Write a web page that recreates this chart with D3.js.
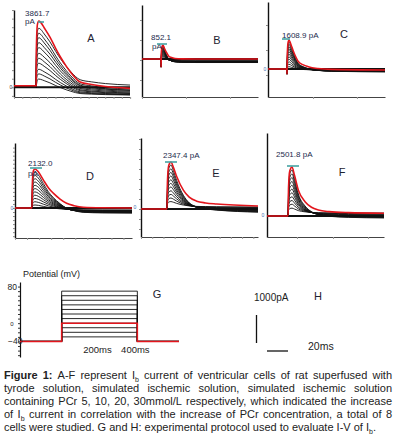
<!DOCTYPE html>
<html><head><meta charset="utf-8">
<script src="https://cdn.jsdelivr.net/npm/d3@7"></script>
<style>body{margin:0;background:#fff}svg{display:block}text{font-family:"Liberation Sans",Arial,sans-serif}</style>
</head><body><svg id="c" width="399" height="437"></svg>
<script>
// ================= DATA =================
const panelKeys   = ["A","B","C","D","E","F"];
const peakLabels  = ["3861.7","852.1","1608.9 pA","2132.0","2347.4 pA","2501.8 pA"];
const peakUnitsBelow = [true, true, false, true, false, false];
const redPeaks    = [3861.7, 852.1, 1608.9, 2132.0, 2347.4, 2501.8];   // pA
const redEnds     = [-60, 0, -55, 0, 150, 140];                        // pA
const redBases    = [90, 0, 0, 0, 0, 0];                               // pA before step
const stepTimes   = [19, 16.4, 16.2, 14.5, 22.2, 18];                  // time units (0-100)
const artifactDips= [0, -490, -280, 0, 0, 0];                          // pA

const peaksA = [480, 780, 1050, 1400, 1690, 1980, 2310, 2600, 2890, 3150, 3440];
const endsA  = [-450, -430, -400, -360, -330, -280, -230, -180, -160, -100, 130];
const peaksB = [120, 185, 245, 310, 375, 440, 505, 575, 645, 715, 790];
const endsB  = [-110, -120, -135, -145, -155, -165, -175, -185, -195, -205, -215];
const peaksC = [130, 265, 400, 540, 680, 820, 960, 1100, 1235, 1370, 1500];
const endsC  = [-60, -70, -80, -90, -100, -110, -120, -130, -140, -150, -160];
const peaksD = [165, 340, 520, 700, 880, 1060, 1240, 1420, 1600, 1780, 1970];
const endsD  = [-110, -125, -140, -160, -180, -200, -215, -230, -245, -260, -280];
const peaksE = [370, 550, 730, 910, 1100, 1280, 1460, 1650, 1830, 2010, 2200];
const endsE  = [100, 70, 40, 10, -20, -50, -80, -100, -120, -140, -160];
const peaksF = [400, 600, 790, 980, 1180, 1370, 1570, 1760, 1960, 2150, 2350];
const endsF  = [150, 120, 90, 60, 30, 0, -20, -40, -60, -80, -100];

// decay shape: offsets after step, fraction of (peak-end)
const offsA  = [0.3, 1.2, 2.4, 4, 7, 12, 17, 21, 26, 30, 38, 48, 60, 81];
const shapeA = [0.6, 0.95, 1, 0.98, 0.9, 0.76, 0.59, 0.465, 0.33, 0.235, 0.094, 0.056, 0.026, 0];
const offsB  = [0.3, 0.9, 1.7, 3, 4.5, 6.5, 9, 12, 18, 30, 83.6];
const shapeB = [0.5, 0.9, 1, 0.75, 0.5, 0.22, 0.1, 0.04, 0.01, 0, 0];
const offsC  = [0.3, 0.9, 1.7, 4, 6.8, 9.7, 14, 18.2, 26.5, 38.2, 83.8];
const shapeC = [0.5, 0.9, 1, 0.78, 0.5, 0.28, 0.17, 0.11, 0.05, 0.02, 0];
const offsD  = [0.3, 1.2, 2.6, 5.4, 9.7, 14, 18.2, 24, 29.6, 36, 43.8, 60, 85.5];
const shapeD = [0.6, 0.95, 1, 0.93, 0.72, 0.52, 0.38, 0.23, 0.12, 0.06, 0.02, 0.005, 0];
const offsE  = [0.4, 1.5, 3.4, 5.5, 8.3, 14, 19, 25.4, 33, 42.5, 77.8];
const shapeE = [0.55, 0.92, 1, 0.88, 0.67, 0.36, 0.2, 0.11, 0.07, 0.045, 0];
const offsF  = [0.4, 1.5, 3.4, 5.5, 8.8, 14.5, 20, 25.9, 35, 51.5, 82];
const shapeF = [0.55, 0.92, 1, 0.82, 0.5, 0.25, 0.13, 0.07, 0.035, 0.013, 0];

// protocol G
const voltageLevels = [-30, -20, -10, 0, 10, 20, 30, 40, 50, 60, 70];
const holdingV = -40;
const redLevel = 0;
const pulseTimes = [0, 400];
const vTickLabels = [80, 0, -40];
const timeTickLabels = [200, 400];

// caption
const captionLines = [
  "*Figure* *1:* A-F represent I~b~ current of ventricular cells of rat superfused with",
  "tyrode solution, simulated ischemic solution, simulated ischemic solution",
  "containing PCr 5, 10, 20, 30mmol/L respectively, which indicated the increase",
  "of I~b~ current in correlation with the increase of PCr concentration, a total of 8",
  "cells were studied. G and H: experimental protocol used to evaluate I-V of I~b~."
];

// ================= LAYOUT =================
const peaksAll = [peaksA, peaksB, peaksC, peaksD, peaksE, peaksF];
const endsAll  = [endsA, endsB, endsC, endsD, endsE, endsF];
const offsAll  = [offsA, offsB, offsC, offsD, offsE, offsF];
const shapeAll = [shapeA, shapeB, shapeC, shapeD, shapeE, shapeF];

const layout = [
  {x0:14,  x1:130, yTop:10,  yBot:97,  dom:[-565,4502],  yt:d3.range(-500,4501,500), xt:d3.range(0,101,7.15),
   lab:[25,16], lab2:[25,24], bar:[38,44,22], letter:[91,42], zero:[11,88.5], zc:"#333"},
  {x0:142, x1:258, yTop:5,   yBot:97,  dom:[-2317,3293], yt:[-1280,-60,1160,2380], xt:[0,37.9,75.9],
   lab:[151,40], lab2:[152,49], bar:[157,167,44], letter:[217,44], zero:null},
  {x0:268, x1:385, yTop:2,   yBot:97,  dom:[-1555,3722], yt:[-333,1055,2444], xt:[38.5,76],
   lab:[282,38], lab2:null, bar:[282,290,39], letter:[344,38], zero:[265,70.5], zc:"#3b6fb0"},
  {x0:15,  x1:132, yTop:143, yBot:238, dom:[-1640,3552], yt:d3.range(-1540,3500,220), xt:d3.range(0,101,10.3),
   lab:[28,166], lab2:[28,176], bar:[30,42,168], letter:[90,180], zero:[12,209.5], zc:"#3b6fb0"},
  {x0:141, x1:258, yTop:138, yBot:237, dom:[-1400,3550], yt:d3.range(-1000,3501,500), xt:d3.range(0,101,9.6),
   lab:[163,158], lab2:null, bar:[165,177,162], letter:[216,177], zero:[135,208.5], zc:"#3b6fb0"},
  {x0:267, x1:384, yTop:133, yBot:237, dom:[-1072,4237], yt:[], xt:[25.6,56.4,86.3],
   lab:[276,157], lab2:null, bar:[287,299,166], letter:[342,176], zero:[263,216.5], zc:"#3b6fb0"}
];

const svg = d3.select("#c");
const labelColor = "#1c2b4d";
const teal = "#45a3a3";
const red = "#e3151c";

function tracePoints(step, dip, base, peak, end, offs, shape){
  const pts = [[0, base], [step, base], [step + 0.05, dip !== 0 ? dip : base]];
  offs.forEach((o, i) => {
    const f = shape[i];
    pts.push([step + o, f * peak + (1 - f) * end]);
  });
  if (pts[pts.length-1][0] < 100) pts.push([100, end]);
  return pts;
}

panelKeys.forEach((key, p) => {
  const L = layout[p];
  const x = d3.scaleLinear().domain([0, 100]).range([L.x0, L.x1]);
  const y = d3.scaleLinear().domain(L.dom).range([L.yBot, L.yTop]);
  const g = svg.append("g");

  // axes
  const ay = g.append("g").attr("transform", `translate(${L.x0},0)`)
    .call(d3.axisLeft(y).tickValues(L.yt).tickSize(2).tickSizeOuter(0).tickFormat(""));
  ay.select(".domain").attr("stroke", "#111").attr("stroke-width", 1.4);
  ay.selectAll(".tick line").attr("stroke", "#888");
  const ax = g.append("g").attr("transform", `translate(0,${L.yBot})`)
    .call(d3.axisBottom(x).tickValues(L.xt).tickSize(2).tickSizeOuter(0).tickFormat(""));
  ax.select(".domain").attr("stroke", "#444").attr("stroke-width", 1);
  ax.selectAll(".tick line").attr("stroke", "#999");

  const line = d3.line().x(d => x(d[0])).y(d => y(d[1])).curve(d3.curveMonotoneX);
  const step = stepTimes[p], dip = artifactDips[p];

  // holding trace (flat)
  g.append("path").attr("d", line([[0,0],[100,0]]))
    .attr("fill","none").attr("stroke","#111").attr("stroke-width",2);

  peaksAll[p].forEach((pk, i) => {
    g.append("path")
      .attr("d", line(tracePoints(step, dip, 0, pk, endsAll[p][i], offsAll[p], shapeAll[p])))
      .attr("fill","none").attr("stroke","#111").attr("stroke-width",0.9);
  });
  g.append("path")
    .attr("d", line(tracePoints(step, dip, redBases[p], redPeaks[p], redEnds[p], offsAll[p], shapeAll[p])))
    .attr("fill","none").attr("stroke",red).attr("stroke-width",1.6);

  // labels
  g.append("text").attr("x", L.lab[0]).attr("y", L.lab[1]).attr("font-size", 8)
    .attr("fill", labelColor).text(peakLabels[p]);
  if (peakUnitsBelow[p] && L.lab2) {
    g.append("text").attr("x", L.lab2[0]).attr("y", L.lab2[1]).attr("font-size", 8)
      .attr("fill", labelColor).text("pA");
  }
  g.append("line").attr("x1", L.bar[0]).attr("x2", L.bar[1]).attr("y1", L.bar[2]).attr("y2", L.bar[2])
    .attr("stroke", teal).attr("stroke-width", 1.6);
  g.append("text").attr("x", L.letter[0]).attr("y", L.letter[1]).attr("font-size", 11)
    .attr("text-anchor","middle").attr("fill","#1e2230").text(key);
  if (L.zero) {
    g.append("text").attr("x", L.zero[0]).attr("y", L.zero[1]).attr("font-size", 5)
      .attr("text-anchor","middle").attr("fill", L.zc).text("0");
  }
});

// ================= PANEL G =================
{
  const g = svg.append("g");
  const tx = d3.scaleLinear().domain([-220, 620]).range([20, 179]);
  const vy = d3.scaleLinear().domain([-74, 90]).range([357, 282]);
  const ay = g.append("g").attr("transform","translate(20,0)")
    .call(d3.axisLeft(vy).tickValues(d3.range(-70, 81, 10)).tickSize(2).tickSizeOuter(0).tickFormat(""));
  ay.select(".domain").attr("stroke","#111").attr("stroke-width",1.2);
  ay.selectAll(".tick line").attr("stroke","#333");
  const ln = d3.line().x(d => tx(d[0])).y(d => vy(d[1]));
  const proto = v => [[-220, holdingV],[pulseTimes[0], holdingV],[pulseTimes[0], v],[pulseTimes[1], v],[pulseTimes[1], holdingV],[620, holdingV]];
  voltageLevels.forEach(v => {
    g.append("path").attr("d", ln(proto(v))).attr("fill","none").attr("stroke","#111").attr("stroke-width",0.9);
  });
  g.append("path").attr("d", ln(proto(redLevel))).attr("fill","none").attr("stroke",red).attr("stroke-width",1.5);

  g.append("text").attr("x",23).attr("y",276.5).attr("font-size",9).attr("fill","#222").text("Potential (mV)");
  vTickLabels.forEach(v => {
    const t = g.append("text").attr("y", vy(v) + 3).attr("fill","#222");
    if (v === 0) t.attr("x", 12).attr("font-size", 6).attr("text-anchor","middle").text("0");
    else if (v < 0) t.attr("x", 8).attr("font-size", 8.5).text("\u2212" + Math.abs(v));
    else t.attr("x", 17).attr("font-size", 8.5).attr("text-anchor","end").text(v);
  });
  timeTickLabels.forEach(t => {
    g.append("text").attr("x", tx(t) - 2).attr("y", 353).attr("font-size", 9.5)
      .attr("text-anchor","middle").attr("fill","#222").text(t + "ms");
  });
  g.append("text").attr("x",157).attr("y",298).attr("font-size",11).attr("text-anchor","middle").attr("fill","#1e2230").text("G");
}

// ================= PANEL H =================
{
  const g = svg.append("g");
  g.append("text").attr("x",254).attr("y",300.5).attr("font-size",10).attr("fill","#222").text("1000pA");
  g.append("text").attr("x",318).attr("y",300).attr("font-size",11).attr("text-anchor","middle").attr("fill","#1e2230").text("H");
  g.append("line").attr("x1",256.5).attr("x2",256.5).attr("y1",315).attr("y2",343).attr("stroke","#111").attr("stroke-width",1.3);
  g.append("line").attr("x1",267).attr("x2",288).attr("y1",351).attr("y2",351).attr("stroke","#111").attr("stroke-width",1.3);
  g.append("text").attr("x",308).attr("y",349.5).attr("font-size",10.5).attr("fill","#222").text("20ms");
}

// ================= CAPTION =================
{
  const g = svg.append("g");
  const left = 4, right = 392, fs = 11;
  const baselines = [379, 392, 405, 418, 431];
  const spaceW = (() => {
    const t = g.append("text").attr("font-size", fs).text("a a");
    const t2 = g.append("text").attr("font-size", fs).text("aa");
    const w = t.node().getComputedTextLength() - t2.node().getComputedTextLength();
    t.remove(); t2.remove(); return w;
  })();
  captionLines.forEach((ln, li) => {
    const words = ln.split(" ");
    const nodes = words.map(w => {
      const t = g.append("text").attr("y", baselines[li]).attr("font-size", fs).attr("fill", "#222");
      const parts = w.match(/(\*[^*]+\*|~[^~]+~|[^*~]+)/g);
      let sub = false;
      parts.forEach(pc => {
        const ts = t.append("tspan");
        if (pc.startsWith("*")) { ts.attr("font-weight","bold").text(pc.slice(1,-1)); if (sub) {ts.attr("dy",-2); sub=false;} }
        else if (pc.startsWith("~")) { ts.attr("font-size", 7).attr("dy", 2.5).text(pc.slice(1,-1)); sub = true; }
        else { ts.text(pc); if (sub) { ts.attr("dy", -2.5); sub = false; } }
      });
      return t;
    });
    const widths = nodes.map(n => n.node().getComputedTextLength());
    const total = d3.sum(widths);
    const gap = li < captionLines.length - 1 ? (right - left - total) / (words.length - 1) : spaceW;
    let cx = left;
    nodes.forEach((n, i) => { n.attr("x", cx); cx += widths[i] + gap; });
  });
}
</script></body></html>
